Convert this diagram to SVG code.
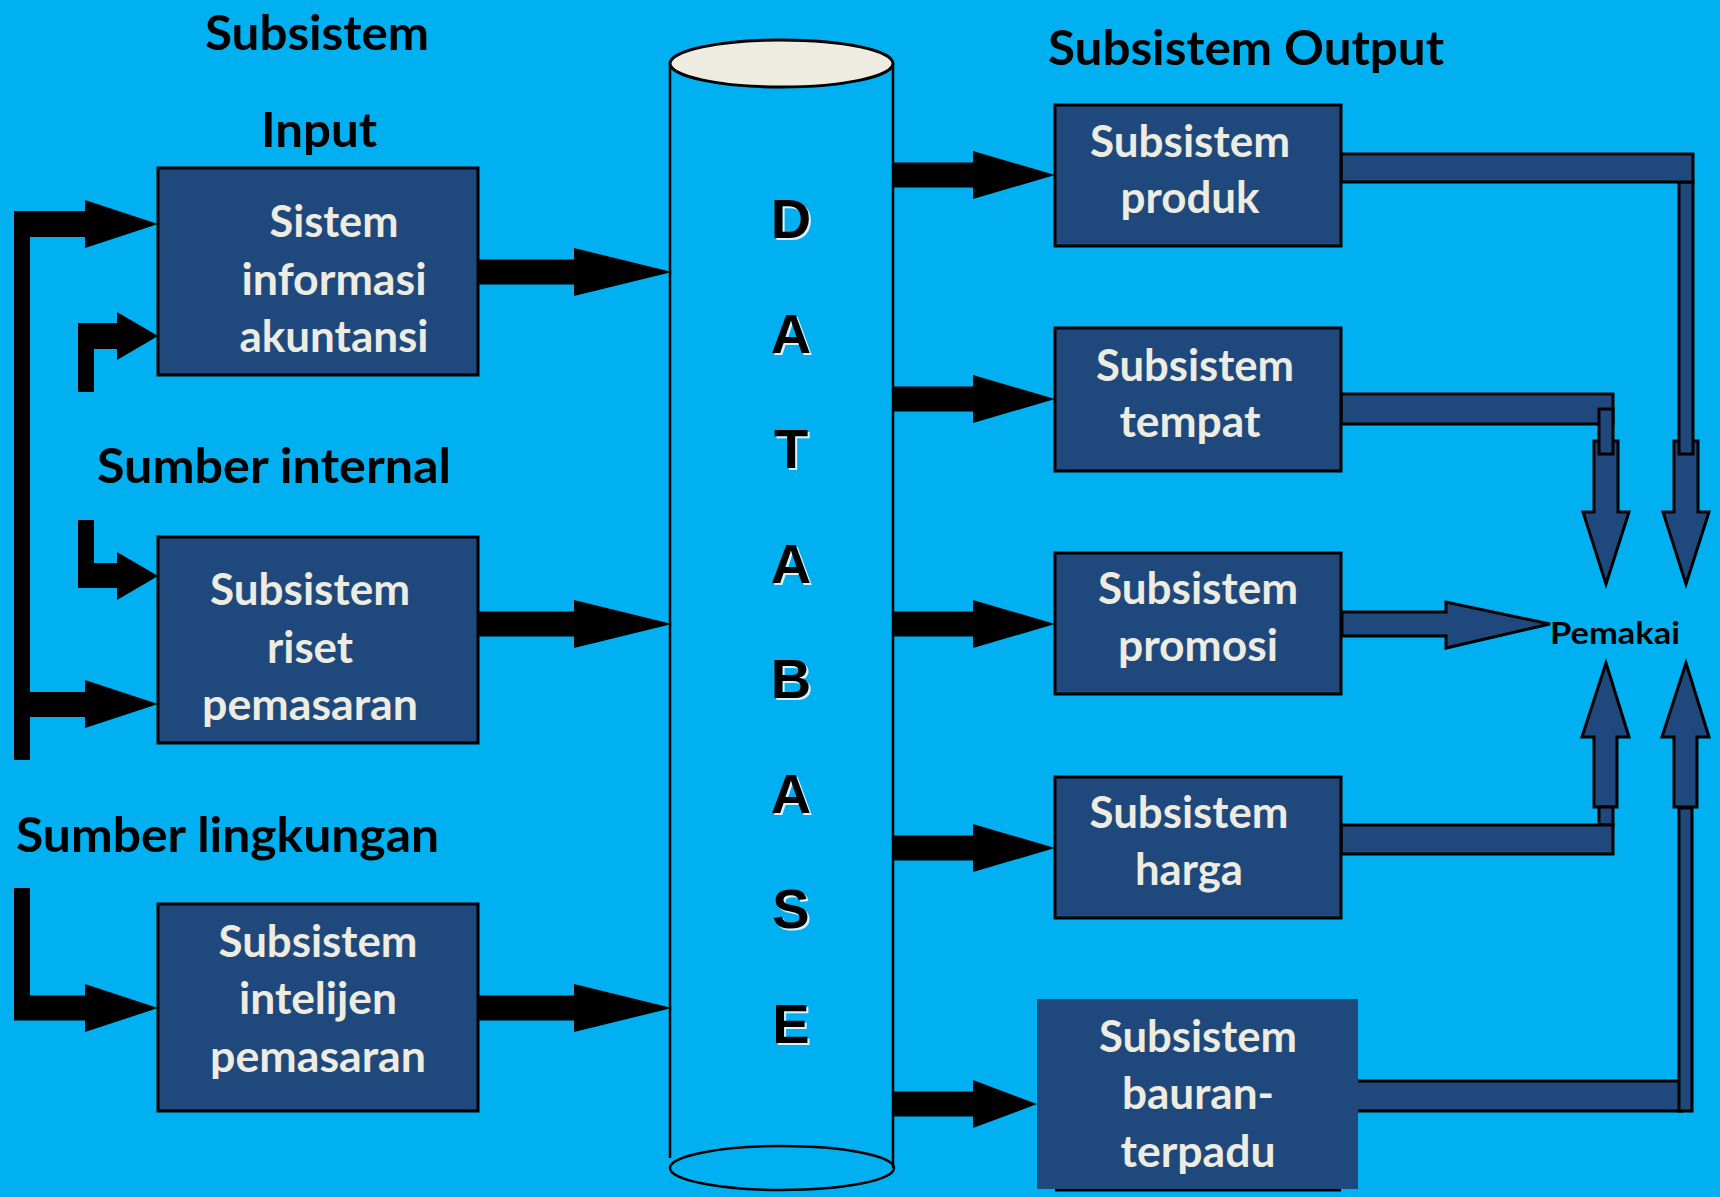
<svg xmlns="http://www.w3.org/2000/svg" width="1720" height="1197" viewBox="0 0 1720 1197">
<style>
.bg{fill:#00B0F0}
.box{fill:#1F497D;stroke:#000;stroke-width:3}
.bt{font-family:Lato,"Open Sans","Noto Sans",sans-serif;font-weight:bold;font-size:43px;fill:#EEECE1;text-anchor:middle}
.title{font-family:Lato,"Open Sans","Noto Sans",sans-serif;font-weight:bold;font-size:47px;fill:#000}
.blk{fill:#000}
.blue{fill:#1F497D;stroke:#000;stroke-width:3}
.db{font-family:"Liberation Sans",Arial,sans-serif;font-weight:bold;font-size:56px;text-anchor:middle}
.cyl{fill:none;stroke:#000;stroke-width:2.5}
</style>
<rect class="bg" x="0" y="0" width="1720" height="1197"/>

<g id="titles">
<text class="title" x="317" y="50" text-anchor="middle" textLength="224" lengthAdjust="spacingAndGlyphs">Subsistem</text>
<text class="title" x="319" y="147" text-anchor="middle" textLength="116" lengthAdjust="spacingAndGlyphs">Input</text>
<text class="title" x="97" y="483" textLength="354" lengthAdjust="spacingAndGlyphs">Sumber internal</text>
<text class="title" x="16" y="852" textLength="423" lengthAdjust="spacingAndGlyphs">Sumber lingkungan</text>
<text class="title" x="1048" y="65" textLength="396" lengthAdjust="spacingAndGlyphs">Subsistem Output</text>
</g>

<g id="database">
<line class="cyl" x1="670" y1="64" x2="670" y2="1158"/>
<line class="cyl" x1="893" y1="64" x2="893" y2="1168"/>
<ellipse cx="781.5" cy="63.5" rx="111.5" ry="23.5" fill="#EEECE1" stroke="#000" stroke-width="3"/>
<ellipse class="cyl" cx="782" cy="1168" rx="112" ry="22"/>
<g class="db" fill="#FFFFFF" opacity="0.85">
<text x="793" y="240">D</text><text x="793" y="355">A</text><text x="793" y="470">T</text><text x="793" y="585">A</text><text x="793" y="700">B</text><text x="793" y="815">A</text><text x="793" y="930">S</text><text x="793" y="1045">E</text>
</g>
<g class="db" fill="#000000">
<text x="791" y="238">D</text><text x="791" y="353">A</text><text x="791" y="468">T</text><text x="791" y="583">A</text><text x="791" y="698">B</text><text x="791" y="813">A</text><text x="791" y="928">S</text><text x="791" y="1043">E</text>
</g>
</g>

<g id="connectors">
<path class="blk" d="M14,211 L85,211 L85,200 L158,224 L85,248 L85,237 L30,237 L30,692 L85,692 L85,680 L158,704 L85,728 L85,717 L30,717 L30,760 L14,760 Z"/>
<path class="blk" d="M78,392 L78,323 L117,323 L117,312 L158,336 L117,360 L117,349 L94,349 L94,392 Z"/>
<path class="blk" d="M78,520 L94,520 L94,563 L117,563 L117,552 L158,576 L117,600 L117,588 L78,588 Z"/>
<path class="blk" d="M14,888 L30,888 L30,995.5 L85,995.5 L85,984 L158,1008 L85,1032 L85,1020.5 L14,1020.5 Z"/>
<polygon class="blk" points="478,259.5 574,259.5 574,248 672,272 574,296 574,284.5 478,284.5"/>
<polygon class="blk" points="478,611.5 574,611.5 574,600 672,624 574,648 574,636.5 478,636.5"/>
<polygon class="blk" points="478,995.5 574,995.5 574,984 672,1008 574,1032 574,1020.5 478,1020.5"/>
<polygon class="blk" points="893,162.5 973,162.5 973,151 1055,175 973,199 973,187.5 893,187.5"/>
<polygon class="blk" points="893,386.5 973,386.5 973,375 1055,399 973,423 973,411.5 893,411.5"/>
<polygon class="blk" points="893,611.5 973,611.5 973,600 1055,624 973,648 973,636.5 893,636.5"/>
<polygon class="blk" points="893,835.5 973,835.5 973,824 1055,848 973,872 973,860.5 893,860.5"/>
<polygon class="blk" points="893,1091.5 973,1091.5 973,1080 1037,1104 973,1128 973,1116.5 893,1116.5"/>

<polygon class="blue" points="1674,441 1698,441 1698,512 1709,512 1686,584 1663,512 1674,512"/>
<polygon class="blue" points="1594,441 1618,441 1618,512 1629,512 1606,584 1583,512 1594,512"/>
<polygon class="blue" points="1594,807 1617,807 1617,737 1629,737 1606,663 1582,737 1594,737"/>
<polygon class="blue" points="1674,807 1697,807 1697,737 1709,737 1686,663 1662,737 1674,737"/>
<rect class="blue" x="1679" y="182" width="14" height="272"/>
<rect class="blue" x="1341" y="154" width="352" height="28"/>
<rect class="blue" x="1341" y="394" width="272" height="30"/>
<rect class="blue" x="1599" y="409" width="14" height="45"/>
<polygon class="blue" points="1342,612 1446,612 1446,602 1550,624 1446,648 1446,636 1342,636"/>
<rect class="blue" x="1599" y="807" width="14" height="18"/>
<rect class="blue" x="1341" y="825" width="272" height="29"/>
<rect class="blue" x="1342" y="1081" width="340" height="30"/>
<rect class="blue" x="1679" y="808" width="13" height="303"/>
</g>

<g id="node-akuntansi">
<rect class="box" x="158" y="168" width="320" height="207"/>
<text class="bt" x="334" y="237" textLength="129" lengthAdjust="spacingAndGlyphs">Sistem</text>
<text class="bt" x="334" y="295" textLength="185" lengthAdjust="spacingAndGlyphs">informasi</text>
<text class="bt" x="334" y="352" textLength="189" lengthAdjust="spacingAndGlyphs">akuntansi</text>
</g>
<g id="node-riset">
<rect class="box" x="158" y="537" width="320" height="206"/>
<text class="bt" x="310" y="605" textLength="200" lengthAdjust="spacingAndGlyphs">Subsistem</text>
<text class="bt" x="310" y="663" textLength="86" lengthAdjust="spacingAndGlyphs">riset</text>
<text class="bt" x="310" y="720" textLength="216" lengthAdjust="spacingAndGlyphs">pemasaran</text>
</g>
<g id="node-intelijen">
<rect class="box" x="158" y="904" width="320" height="207"/>
<text class="bt" x="318" y="957" textLength="199" lengthAdjust="spacingAndGlyphs">Subsistem</text>
<text class="bt" x="318" y="1014" textLength="158" lengthAdjust="spacingAndGlyphs">intelijen</text>
<text class="bt" x="318" y="1072" textLength="216" lengthAdjust="spacingAndGlyphs">pemasaran</text>
</g>
<g id="node-produk">
<rect class="box" x="1055" y="105" width="286" height="141"/>
<text class="bt" x="1190" y="157" textLength="200" lengthAdjust="spacingAndGlyphs">Subsistem</text>
<text class="bt" x="1190" y="213" textLength="139" lengthAdjust="spacingAndGlyphs">produk</text>
</g>
<g id="node-tempat">
<rect class="box" x="1055" y="328" width="286" height="143"/>
<text class="bt" x="1195" y="381" textLength="198" lengthAdjust="spacingAndGlyphs">Subsistem</text>
<text class="bt" x="1190" y="437" textLength="141" lengthAdjust="spacingAndGlyphs">tempat</text>
</g>
<g id="node-promosi">
<rect class="box" x="1055" y="553" width="286" height="141"/>
<text class="bt" x="1198" y="604" textLength="200" lengthAdjust="spacingAndGlyphs">Subsistem</text>
<text class="bt" x="1198" y="661" textLength="160" lengthAdjust="spacingAndGlyphs">promosi</text>
</g>
<g id="node-harga">
<rect class="box" x="1055" y="777" width="286" height="141"/>
<text class="bt" x="1189" y="828" textLength="199" lengthAdjust="spacingAndGlyphs">Subsistem</text>
<text class="bt" x="1189" y="885" textLength="108" lengthAdjust="spacingAndGlyphs">harga</text>
</g>
<g id="node-bauran">
<line x1="1055" y1="1190" x2="1341" y2="1190" stroke="#000" stroke-width="3"/>
<rect x="1037" y="999" width="321" height="190" fill="#1F497D"/>
<text class="bt" x="1198" y="1052" textLength="198" lengthAdjust="spacingAndGlyphs">Subsistem</text>
<text class="bt" x="1198" y="1109" textLength="152" lengthAdjust="spacingAndGlyphs">bauran-</text>
<text class="bt" x="1198" y="1167" textLength="155" lengthAdjust="spacingAndGlyphs">terpadu</text>
</g>
<g id="node-pemakai">
<text x="1550" y="644" font-family="Lato,'Open Sans','Noto Sans',sans-serif" font-weight="bold" font-size="31" fill="#000" textLength="130" lengthAdjust="spacingAndGlyphs">Pemakai</text>
</g>
</svg>
